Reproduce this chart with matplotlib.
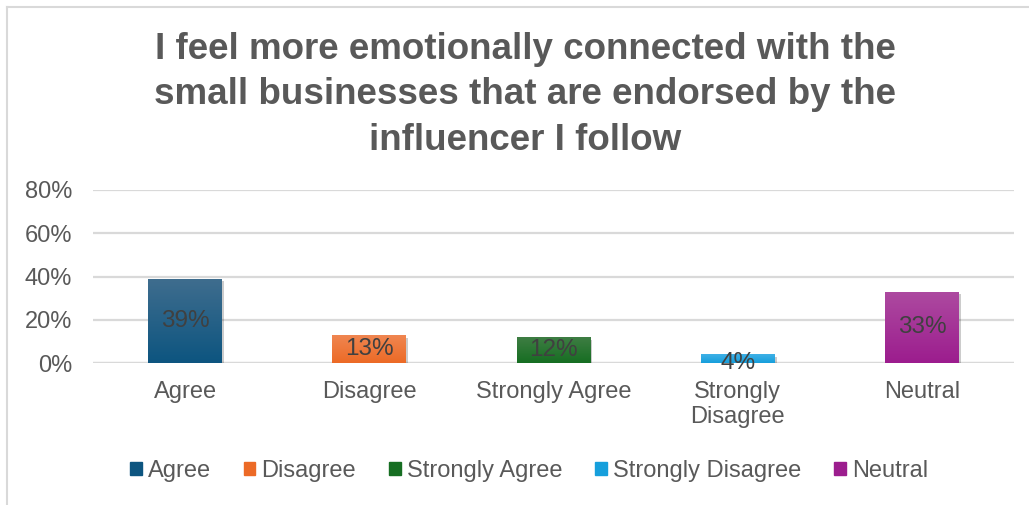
import numpy as np
import matplotlib.pyplot as plt
import matplotlib.patheffects as pe
from matplotlib.colors import LinearSegmentedColormap
from matplotlib.patches import Rectangle
from matplotlib.lines import Line2D

categories = ['Agree', 'Disagree', 'Strongly Agree', 'Strongly\nDisagree', 'Neutral']
legend_names = ['Agree', 'Disagree', 'Strongly Agree', 'Strongly Disagree', 'Neutral']
values = [0.39, 0.13, 0.12, 0.04, 0.33]
labels = ['39%', '13%', '12%', '4%', '33%']
# (top, bottom) colour of each bar's gradient
colors_top = ['#3f6d8e', '#f08752', '#3e7d43', '#3fb0e6', '#ad4aa0']
colors_bot = ['#0d5580', '#ec6a26', '#166e22', '#169fdc', '#9c1d8e']

plt.rcParams['font.family'] = ['Liberation Sans', 'DejaVu Sans']

fig = plt.figure(figsize=(10.29, 5.05), dpi=100)
ax = fig.add_axes([93/1029, 1 - 363/505, (1014 - 93)/1029, (363 - 190)/505])

x = np.arange(len(values))
w = 0.4
bars = ax.bar(x, values, width=w, color=colors_bot, zorder=3)
for b, ct, cb in zip(bars, colors_top, colors_bot):
    b.set_path_effects([pe.SimplePatchShadow(offset=(1.5, -2), alpha=0.2,
                                             shadow_rgbFace='#000000'), pe.Normal()])
    cmap = LinearSegmentedColormap.from_list('g', [cb, ct])
    grad = np.linspace(0, 1, 64).reshape(-1, 1)
    im = ax.imshow(grad, cmap=cmap, aspect='auto', origin='lower',
                   extent=(b.get_x(), b.get_x() + b.get_width(), 0, b.get_height()),
                   zorder=4)
    im.set_clip_path(b)

for xi, v, lab in zip(x, values, labels):
    ax.text(xi, v / 2 if v > 0.06 else 0.0, lab, ha='center', va='center',
            fontsize=17.5, color='#404040', zorder=5)

ax.set_xlim(-0.5, len(values) - 0.5)
ax.set_ylim(0, 0.8)
ax.set_yticks([0, 0.2, 0.4, 0.6, 0.8])
ax.set_yticklabels(['0%', '20%', '40%', '60%', '80%'])
ax.set_xticks(x)
ax.set_xticklabels(categories)
ax.tick_params(axis='both', length=0, labelsize=17, labelcolor='#595959')
ax.tick_params(axis='y', pad=15)
ax.tick_params(axis='x', pad=13)
ax.yaxis.grid(True, color='#d9d9d9', linewidth=1.6, zorder=0)
for s in ax.spines.values():
    s.set_visible(False)
ax.axhline(0, color='#d9d9d9', linewidth=1.6, zorder=1)

fig.suptitle('I feel more emotionally connected with the\nsmall businesses that are endorsed by the\ninfluencer I follow',
             x=525/1029, y=1 - 32/505, va='top', fontsize=26.5, fontweight='bold',
             color='#595959', linespacing=1.38)

handles = [Rectangle((0, 0), 1, 1, color=c) for c in colors_bot]
fig.legend(handles, legend_names, loc='center', bbox_to_anchor=(529/1029, 1 - 471/505),
           ncol=5, frameon=False, fontsize=17, handlelength=0.5, handleheight=0.5,
           handletextpad=0.25, columnspacing=1.4, labelcolor='#595959')

# outer chart border (only left and top edges fall inside the image)
fig.add_artist(Line2D([7/1029, 7/1029], [0, 1 - 7/505], color='#d9d9d9', lw=1.5))
fig.add_artist(Line2D([7/1029, 1], [1 - 7/505, 1 - 7/505], color='#d9d9d9', lw=1.5))

fig.savefig('out.png', dpi=100, facecolor='white')
